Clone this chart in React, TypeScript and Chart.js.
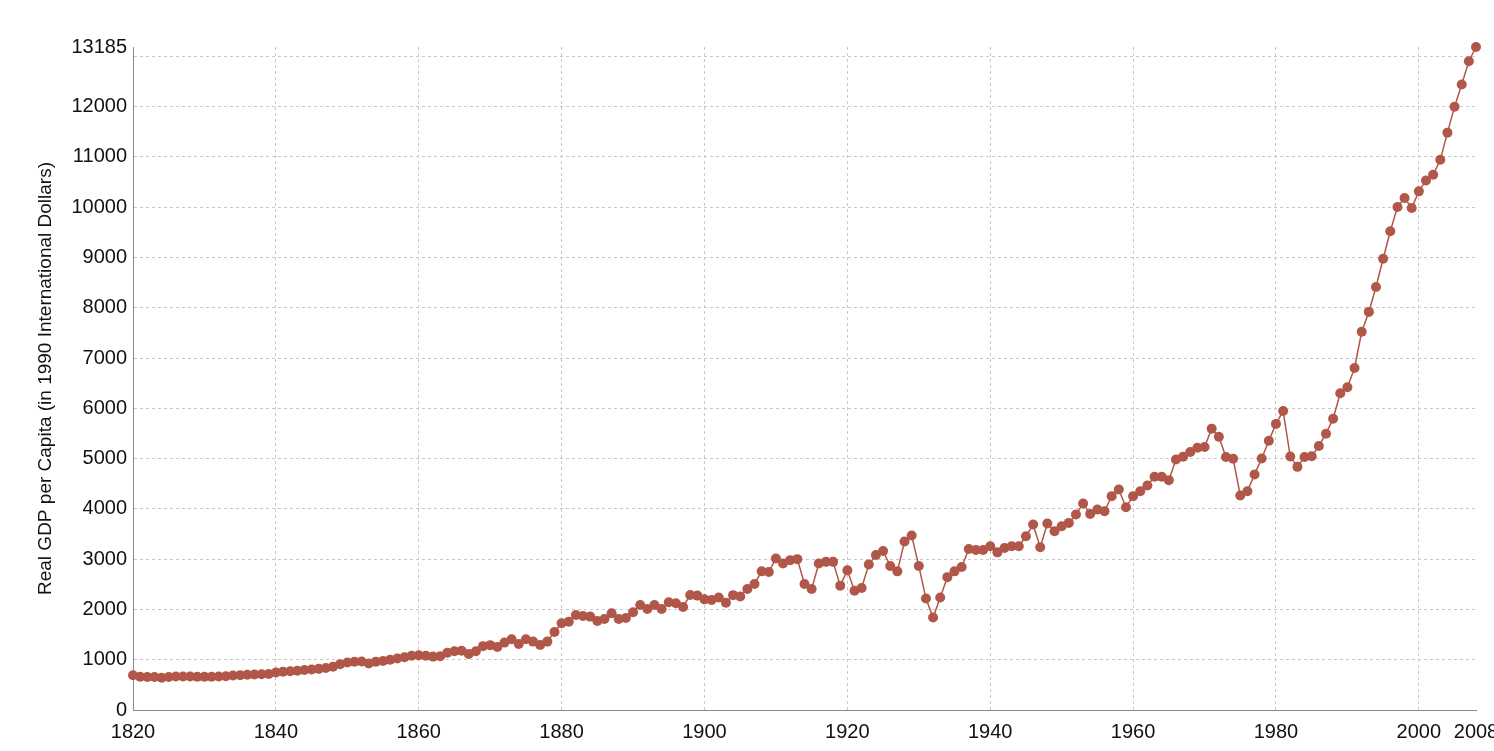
import React, { useEffect, useRef } from "react";
import { Chart, registerables } from "chart.js";

Chart.register(...registerables);

const YEARS: number[] = [
  1820, 1821, 1822, 1823, 1824, 1825, 1826, 1827, 1828, 1829,
  1830, 1831, 1832, 1833, 1834, 1835, 1836, 1837, 1838, 1839,
  1840, 1841, 1842, 1843, 1844, 1845, 1846, 1847, 1848, 1849,
  1850, 1851, 1852, 1853, 1854, 1855, 1856, 1857, 1858, 1859,
  1860, 1861, 1862, 1863, 1864, 1865, 1866, 1867, 1868, 1869,
  1870, 1871, 1872, 1873, 1874, 1875, 1876, 1877, 1878, 1879,
  1880, 1881, 1882, 1883, 1884, 1885, 1886, 1887, 1888, 1889,
  1890, 1891, 1892, 1893, 1894, 1895, 1896, 1897, 1898, 1899,
  1900, 1901, 1902, 1903, 1904, 1905, 1906, 1907, 1908, 1909,
  1910, 1911, 1912, 1913, 1914, 1915, 1916, 1917, 1918, 1919,
  1920, 1921, 1922, 1923, 1924, 1925, 1926, 1927, 1928, 1929,
  1930, 1931, 1932, 1933, 1934, 1935, 1936, 1937, 1938, 1939,
  1940, 1941, 1942, 1943, 1944, 1945, 1946, 1947, 1948, 1949,
  1950, 1951, 1952, 1953, 1954, 1955, 1956, 1957, 1958, 1959,
  1960, 1961, 1962, 1963, 1964, 1965, 1966, 1967, 1968, 1969,
  1970, 1971, 1972, 1973, 1974, 1975, 1976, 1977, 1978, 1979,
  1980, 1981, 1982, 1983, 1984, 1985, 1986, 1987, 1988, 1989,
  1990, 1991, 1992, 1993, 1994, 1995, 1996, 1997, 1998, 1999,
  2000, 2001, 2002, 2003, 2004, 2005, 2006, 2007, 2008,
];

const GDP_PER_CAPITA: number[] = [
  690, 660, 655, 655, 640, 655, 665, 665, 665, 660,
  660, 660, 665, 672, 685, 690, 700, 705, 710, 715,
  745, 760, 770, 782, 796, 805, 818, 837, 862, 912,
  945, 960, 965, 925, 962, 975, 1000, 1025, 1050, 1078,
  1090, 1080, 1062, 1070, 1140, 1168, 1180, 1115, 1170, 1270,
  1290, 1255, 1340, 1406, 1313, 1406, 1360, 1293, 1360, 1552,
  1724, 1757, 1890, 1870, 1857, 1770, 1810, 1923, 1810, 1830,
  1943, 2089, 2010, 2089, 2010, 2142, 2122, 2050, 2288, 2275,
  2200, 2189, 2236, 2135, 2284, 2257, 2405, 2507, 2757, 2743,
  3014, 2912, 2980, 3000, 2507, 2405, 2912, 2946, 2946, 2473,
  2777, 2372, 2426, 2892, 3081, 3162, 2865, 2757, 3351, 3470,
  2865, 2216, 1840, 2236, 2642, 2757, 2845, 3203, 3182, 3182,
  3255, 3135, 3223, 3256, 3256, 3455, 3688, 3236, 3708, 3555,
  3654, 3721, 3887, 4106, 3900, 3987, 3953, 4253, 4385, 4033,
  4253, 4352, 4465, 4638, 4638, 4571, 4983, 5037, 5130, 5216,
  5229, 5595, 5435, 5030, 4997, 4266, 4352, 4684, 5003, 5355,
  5690, 5945, 5040, 4835, 5033, 5046, 5251, 5495, 5792, 6300,
  6419, 6802, 7521, 7917, 8413, 8974, 9521, 10003, 10182, 9983,
  10314, 10531, 10644, 10941, 11482, 11997, 12439, 12901, 13185,
];

const X_TICKS: number[] = [1820, 1840, 1860, 1880, 1900, 1920, 1940, 1960, 1980, 2000, 2008];
const Y_GRID: number[] = [0, 1000, 2000, 3000, 4000, 5000, 6000, 7000, 8000, 9000, 10000, 11000, 12000, 13000];
const Y_MAX = 13185;
const Y_TITLE = "Real GDP per Capita (in 1990 International Dollars)";

const LINE_COLOR = "#b0574a";
const GRID_COLOR = "#c9c9c9";
const AXIS_COLOR = "#8a8a8a";
const FONT = "'Liberation Sans', Arial, Helvetica, sans-serif";

export default function App() {
  const ref = useRef<HTMLCanvasElement | null>(null);

  useEffect(() => {
    if (!ref.current) return;
    const points = YEARS.map((y, i) => ({ x: y, y: GDP_PER_CAPITA[i] }));
    const chart = new Chart(ref.current, {
      type: "line",
      data: {
        datasets: [
          {
            data: points,
            borderColor: LINE_COLOR,
            backgroundColor: LINE_COLOR,
            borderWidth: 1.5,
            pointRadius: 5,
            pointBorderWidth: 0,
            pointBackgroundColor: LINE_COLOR,
            tension: 0,
            fill: false,
            clip: false,
          } as any,
        ],
      },
      options: {
        animation: false,
        responsive: false,
        devicePixelRatio: 1,
        layout: { padding: { left: 0, right: 44, top: 47, bottom: 0 } },
        plugins: { legend: { display: false }, tooltip: { enabled: false } },
        scales: {
          x: {
            type: "linear",
            min: 1820,
            max: 2008,
            afterBuildTicks: (scale: any) => {
              scale.ticks = X_TICKS.map((v) => ({ value: v }));
            },
            afterFit: (scale: any) => {
              scale.height = 41;
            },
            ticks: {
              autoSkip: false,
              maxRotation: 0,
              padding: 10,
              color: "#111",
              font: { family: FONT, size: 20 },
              callback: (v: any) => String(v),
            },
            grid: {
              drawTicks: false,
              lineWidth: 1,
              color: (ctx: any) =>
                ctx.tick && (ctx.tick.value === 1820 || ctx.tick.value === 2008)
                  ? "rgba(0,0,0,0)"
                  : GRID_COLOR,
            },
            border: { display: true, color: AXIS_COLOR, width: 1, dash: [3, 3] },
          },
          y: {
            min: 0,
            max: Y_MAX,
            afterBuildTicks: (scale: any) => {
              scale.ticks = [...Y_GRID, Y_MAX].map((v) => ({ value: v }));
            },
            afterFit: (scale: any) => {
              scale.width = 133;
            },
            ticks: {
              padding: 6,
              color: "#111",
              font: { family: FONT, size: 20 },
              callback: (v: any) => (v === 13000 ? "" : String(v)),
            },
            grid: {
              drawTicks: false,
              lineWidth: 1,
              color: (ctx: any) =>
                ctx.tick && (ctx.tick.value === Y_MAX || ctx.tick.value === 0)
                  ? "rgba(0,0,0,0)"
                  : GRID_COLOR,
            },
            border: { display: true, color: AXIS_COLOR, width: 1, dash: [3, 3] },
            title: {
              display: true,
              text: Y_TITLE,
              color: "#111",
              font: { family: FONT, size: 19 },
              padding: { top: 34, bottom: 0 },
            },
          },
        },
      },
    });
    return () => chart.destroy();
  }, []);

  return (
    <div
      style={{
        position: "absolute",
        left: 0,
        top: 0,
        width: 1494,
        height: 751,
        overflow: "hidden",
        background: "#fff",
      }}
    >
      <canvas ref={ref} width={1520} height={751} style={{ width: 1520, height: 751, display: "block" }} />
    </div>
  );
}
